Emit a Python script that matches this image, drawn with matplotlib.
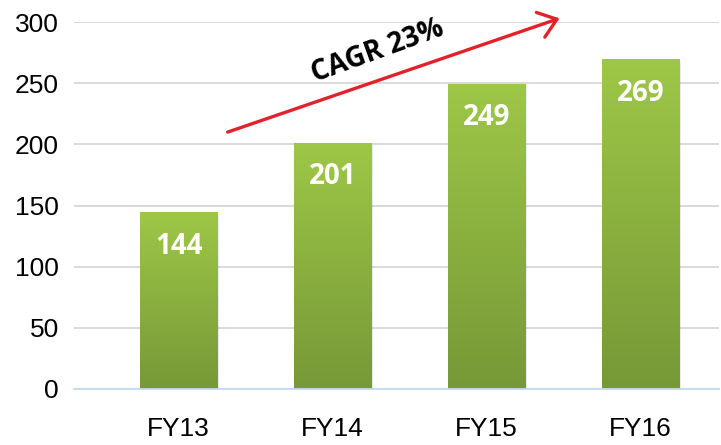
import numpy as np
import matplotlib.pyplot as plt
from matplotlib.colors import LinearSegmentedColormap

years = ['FY13', 'FY14', 'FY15', 'FY16']
revenue = [144, 201, 249, 269]
y_ticks = [0, 50, 100, 150, 200, 250, 300]
cagr_label = 'CAGR 23%'

plt.rcParams['font.family'] = ['Liberation Sans', 'DejaVu Sans']

fig = plt.figure(figsize=(7.21, 4.45), dpi=100)
ax = fig.add_axes([74 / 721, 1 - 389 / 445, (719 - 74) / 721, 367 / 445])

x = np.arange(len(years))
bars = ax.bar(x, revenue, width=0.506, color='none', zorder=2)

# vertical gradient inside each bar (light on top, darker at bottom)
green = LinearSegmentedColormap.from_list('grn', ['#779837', '#9EC747'])
grad = np.linspace(0, 1, 256).reshape(-1, 1)
for b in bars:
    x0, w, h = b.get_x(), b.get_width(), b.get_height()
    # soft shadow to the right
    ax.bar(x0 + w / 2 + 0.012, h, width=w, bottom=-1.5, color='#000000',
           alpha=0.08, zorder=1.5)
    ax.imshow(grad, extent=[x0, x0 + w, 0, h], origin='lower', aspect='auto',
              cmap=green, zorder=2.1)
    ax.annotate(str(int(h)), (x0 + w / 2, h), xytext=(0, -24),
                textcoords='offset points', ha='center', va='center',
                color='white', fontsize=20, fontweight='bold',
                family=['Open Sans', 'DejaVu Sans'], zorder=3)

ax.set_xlim(-0.68, 3.51)
ax.set_ylim(0, 300)
ax.set_yticks(y_ticks)
ax.set_xticks(x)
ax.set_xticklabels(years)
ax.tick_params(axis='both', length=0, labelsize=19)
ax.tick_params(axis='y', pad=11)
ax.tick_params(axis='x', pad=20)

ax.yaxis.grid(True, color='#D9D9D9', lw=1.4)
ax.set_axisbelow(True)
for s in ['top', 'right', 'left']:
    ax.spines[s].set_visible(False)
ax.spines['bottom'].set_color('#C6D9F0')
ax.spines['bottom'].set_linewidth(1.3)
ax.spines['bottom'].set_zorder(2.5)

# growth arrow
ax.annotate('', xy=(2.474, 303), xytext=(0.318, 210),
            arrowprops=dict(arrowstyle='->,head_length=0.62,head_width=0.47',
                            color='#E1222B', lw=2.4, mutation_scale=20,
                            shrinkA=0, shrinkB=0),
            annotation_clip=False, zorder=4)
ax.text(1.29, 276, cagr_label, rotation=20, ha='center', va='center',
        rotation_mode='anchor', fontsize=20, fontweight='bold',
        family=['Open Sans', 'DejaVu Sans'], zorder=4)

fig.savefig('out.png', dpi=100)
